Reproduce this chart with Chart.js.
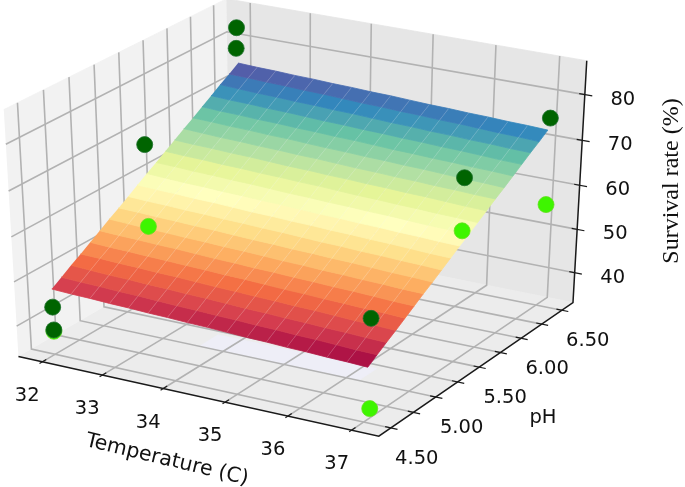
<!DOCTYPE html>
<html><head><meta charset="utf-8">
<style>html,body{margin:0;padding:0;background:#fff}canvas{display:block;filter:blur(0.45px)}</style>
<script src="https://cdn.jsdelivr.net/npm/chart.js@4/dist/chart.umd.min.js"></script>
</head><body><canvas id="c" width="685" height="487"></canvas>
<script>
const temperatureTicks=[32,33,34,35,36,37];
const phTicks=[4.5,4.75,5,5.25,5.5,5.75,6,6.25,6.5];
const phTickLabels=['4.50','','5.00','','5.50','','6.00','','6.50'];
const survivalTicks=[40,50,60,70,80];
const temperatureLimits=[31.6,37.42];
const phLimits=[4.37,6.64];
const survivalLimits=[33,87.3];
const gridTemperatures=[32,32.32,32.63,32.95,33.26,33.58,33.89,34.21,34.53,34.84,35.16,35.47,35.79,36.1,36.42,36.73,37.05];
const gridPh=[4.5,4.6,4.7,4.8,4.9,5,5.1,5.2,5.3,5.4,5.5,5.6,5.7,5.8,5.9,6,6.1,6.2,6.3,6.4,6.5];
const gridSurvival=[
[47.9,47.7,47.6,47.4,47.3,47.1,47.0,46.8,46.7,46.5,46.3,46.2,46.0,45.9,45.7,45.6,45.4],
[49.3,49.1,49.0,48.8,48.7,48.5,48.3,48.2,48.0,47.9,47.7,47.6,47.4,47.3,47.1,46.9,46.8],
[50.7,50.5,50.3,50.2,50.0,49.9,49.7,49.6,49.4,49.2,49.1,48.9,48.8,48.6,48.5,48.3,48.2],
[52.0,51.9,51.7,51.6,51.4,51.3,51.1,50.9,50.8,50.6,50.5,50.3,50.2,50.0,49.8,49.7,49.5],
[53.4,53.2,53.1,52.9,52.8,52.6,52.5,52.3,52.2,52.0,51.8,51.7,51.5,51.4,51.2,51.1,50.9],
[54.8,54.6,54.5,54.3,54.2,54.0,53.8,53.7,53.5,53.4,53.2,53.1,52.9,52.8,52.6,52.4,52.3],
[56.2,56.0,55.8,55.7,55.5,55.4,55.2,55.1,54.9,54.7,54.6,54.4,54.3,54.1,54.0,53.8,53.7],
[57.5,57.4,57.2,57.1,56.9,56.8,56.6,56.4,56.3,56.1,56.0,55.8,55.7,55.5,55.3,55.2,55.0],
[58.9,58.7,58.6,58.4,58.3,58.1,58.0,57.8,57.7,57.5,57.3,57.2,57.0,56.9,56.7,56.6,56.4],
[60.3,60.1,60.0,59.8,59.7,59.5,59.3,59.2,59.0,58.9,58.7,58.6,58.4,58.3,58.1,57.9,57.8],
[61.7,61.5,61.3,61.2,61.0,60.9,60.7,60.6,60.4,60.2,60.1,59.9,59.8,59.6,59.5,59.3,59.2],
[63.0,62.9,62.7,62.6,62.4,62.3,62.1,61.9,61.8,61.6,61.5,61.3,61.2,61.0,60.8,60.7,60.5],
[64.4,64.2,64.1,63.9,63.8,63.6,63.5,63.3,63.2,63.0,62.8,62.7,62.5,62.4,62.2,62.1,61.9],
[65.8,65.6,65.5,65.3,65.2,65.0,64.8,64.7,64.5,64.4,64.2,64.1,63.9,63.8,63.6,63.4,63.3],
[67.2,67.0,66.8,66.7,66.5,66.4,66.2,66.1,65.9,65.7,65.6,65.4,65.3,65.1,65.0,64.8,64.7],
[68.5,68.4,68.2,68.1,67.9,67.8,67.6,67.4,67.3,67.1,67.0,66.8,66.7,66.5,66.3,66.2,66.0],
[69.9,69.7,69.6,69.4,69.3,69.1,69.0,68.8,68.7,68.5,68.3,68.2,68.0,67.9,67.7,67.6,67.4],
[71.3,71.1,71.0,70.8,70.7,70.5,70.3,70.2,70.0,69.9,69.7,69.6,69.4,69.3,69.1,68.9,68.8],
[72.7,72.5,72.3,72.2,72.0,71.9,71.7,71.6,71.4,71.2,71.1,70.9,70.8,70.6,70.5,70.3,70.2],
[74.0,73.9,73.7,73.6,73.4,73.3,73.1,72.9,72.8,72.6,72.5,72.3,72.2,72.0,71.8,71.7,71.5],
[75.4,75.2,75.1,74.9,74.8,74.6,74.5,74.3,74.2,74.0,73.8,73.7,73.5,73.4,73.2,73.1,72.9]];
const darkTemperature=[31.98,31.97,31.98,37.08,37.09,32,32,37.09];
const darkPh=[6.5,6.5,5.5,6.5,5.5,4.5,4.5,4.5];
const darkSurvival=[83.2,78.6,68.1,75.6,74.1,43.8,38.6,56.2];
const lightTemperature=[32,37.08,37.08,37.09,32];
const lightPh=[5.5,6.5,5.5,4.5,4.5];
const lightSurvival=[49.7,56.4,62.6,36.3,38.3];

const spectral=['#9e0142','#d53e4f','#f46d43','#fdae61','#fee08b','#ffffbf','#e6f598','#abdda4','#66c2a5','#3288bd','#5e4fa2'];
const hex=h=>[1,3,5].map(i=>parseInt(h.substr(i,2),16));
function cmap(t){t=Math.max(0,Math.min(1,t))*10;const i=Math.min(9,Math.floor(t)),f=t-i,a=hex(spectral[i]),b=hex(spectral[i+1]);
  return 'rgb('+a.map((v,k)=>Math.round(v+(b[k]-v)*f)).join(',')+')';}

// mplot3d default camera: elev 30, azim -60, dist 10
const view={ox:300,oy:210,sx:4160,sy:2820,dist:10};
function projN(u,v,w){const a=u-.5,b=v-.5,c=w-.5;
  const right=.866*a+.5*b, up=-.25*a+.433*b+.866*c, depth=.433*a-.75*b+.5*c, s=view.dist-depth;
  return {x:view.ox+view.sx*right/s,y:view.oy-view.sy*up/s};}
const nT=t=>(t-temperatureLimits[0])/(temperatureLimits[1]-temperatureLimits[0]);
const nP=p=>(p-phLimits[0])/(phLimits[1]-phLimits[0]);
const nS=s=>(s-survivalLimits[0])/(survivalLimits[1]-survivalLimits[0]);
const proj=(t,p,s)=>projN(nT(t),nP(p),nS(s));

const ds=[];
function poly(pts,fill){ds.push({type:'scatter',showLine:true,data:pts,borderColor:fill,borderWidth:.8,backgroundColor:fill,fill:'shape',pointRadius:0,tension:0});}
function line(pts,color,w){ds.push({type:'scatter',showLine:true,data:pts,borderColor:color,borderWidth:w,fill:false,pointRadius:0,tension:0});}
function dots(T,P,S,color,edge){ds.push({type:'scatter',showLine:false,data:T.map((t,i)=>proj(t,P[i],S[i])),pointRadius:8,pointBackgroundColor:color,pointBorderColor:edge,pointBorderWidth:.8});}

dots(darkTemperature,darkPh,darkSurvival,'#006400','#1b6f2a');
dots(lightTemperature,lightPh,lightSurvival,'#3ef500','#63e01e');

// axes
line([projN(0,0,0),projN(1,0,0),projN(1,1,0),projN(1,1,1)],'#1a1a1a',1.5);
temperatureTicks.forEach(t=>{const u=nT(t);line([projN(u,.018,0),projN(u,-.012,0)],'#1a1a1a',1.2);});
phTicks.forEach(p=>{const v=nP(p);line([projN(.985,v,0),projN(1.018,v,0)],'#1a1a1a',1.2);});
survivalTicks.forEach(s=>{const w=nS(s);line([projN(.985,1,w),projN(1.02,1,w)],'#1a1a1a',1.2);});

// column lines across the surface
const colLine='rgba(255,255,255,0.2)';
gridTemperatures.forEach((t,i)=>{if(i>0&&i<gridTemperatures.length-1)line(gridPh.map((p,j)=>proj(t,p,gridSurvival[j][i])),colLine,.8);});

// surface cells
const zAll=gridSurvival.flat(),zMin=Math.min(...zAll),zMax=Math.max(...zAll);
for(let j=gridPh.length-2;j>=0;j--)for(let i=0;i<gridTemperatures.length-1;i++){
  const z=[gridSurvival[j][i],gridSurvival[j][i+1],gridSurvival[j+1][i+1],gridSurvival[j+1][i]];
  const m=(z[0]+z[1]+z[2]+z[3])/4;
  poly([proj(gridTemperatures[i],gridPh[j],z[0]),proj(gridTemperatures[i+1],gridPh[j],z[1]),proj(gridTemperatures[i+1],gridPh[j+1],z[2]),proj(gridTemperatures[i],gridPh[j+1],z[3])],cmap((m-zMin)/(zMax-zMin)));
}

// gridlines
const gc='#b2b2b2';
temperatureTicks.forEach(t=>{const u=nT(t);line([projN(u,0,0),projN(u,1,0),projN(u,1,1)],gc,1.6);});
phTicks.forEach(p=>{const v=nP(p);line([projN(1,v,0),projN(0,v,0),projN(0,v,1)],gc,1.6);});
survivalTicks.forEach(s=>{const w=nS(s);line([projN(0,0,w),projN(0,1,w),projN(1,1,w)],gc,1.6);});

// pale band on the floor beneath the front edge of the surface
poly([proj(33.6,5,survivalLimits[0]),proj(36.2,5,survivalLimits[0]),proj(36.2,5.2,survivalLimits[0]),proj(33.6,5.2,survivalLimits[0])],'#eeeef7');

// panes
poly([projN(0,0,0),projN(1,0,0),projN(1,1,0),projN(0,1,0)],'#ececec');
poly([projN(0,1,0),projN(1,1,0),projN(1,1,1),projN(0,1,1)],'#e6e6e6');
poly([projN(0,0,0),projN(0,1,0),projN(0,1,1),projN(0,0,1)],'#f2f2f2');

const textPlugin={id:'text3d',afterDatasetsDraw(chart){
  const c=chart.ctx,X=chart.scales.x,Y=chart.scales.y;
  const put=(s,p,dx,dy,font,rot)=>{c.save();c.translate(X.getPixelForValue(p.x)+dx,Y.getPixelForValue(p.y)+dy);if(rot)c.rotate(rot);c.font=font;c.fillStyle='#111';c.textAlign='center';c.textBaseline='middle';c.fillText(s,0,0);c.restore();};
  const f='19.5px "DejaVu Sans"';
  temperatureTicks.forEach(t=>put(String(t),projN(nT(t),0,0),-15,34,f));
  phTicks.forEach((p,i)=>{if(phTickLabels[i])put(phTickLabels[i],projN(1,nP(p),0),26,31,f);});
  survivalTicks.forEach(s=>put(String(s),projN(1,1,nS(s)),38,5,f));
  put('Temperature (C)',{x:167,y:460},0,0,'20.5px "DejaVu Sans"',13.5*Math.PI/180);
  put('pH',{x:543,y:418},0,0,'19.5px "DejaVu Sans"');
  put('Survival rate (%)',{x:672,y:181},0,0,'24px "Liberation Serif"',-Math.PI/2);
}};

new Chart(document.getElementById('c'),{
  data:{datasets:ds},
  options:{responsive:false,animation:false,devicePixelRatio:1,
    layout:{padding:0,autoPadding:false},
    plugins:{legend:{display:false},tooltip:{enabled:false}},
    events:[],
    scales:{x:{type:'linear',display:false,min:0,max:685},y:{type:'linear',display:false,min:0,max:487,reverse:true}}},
  plugins:[textPlugin]
});
</script></body></html>
